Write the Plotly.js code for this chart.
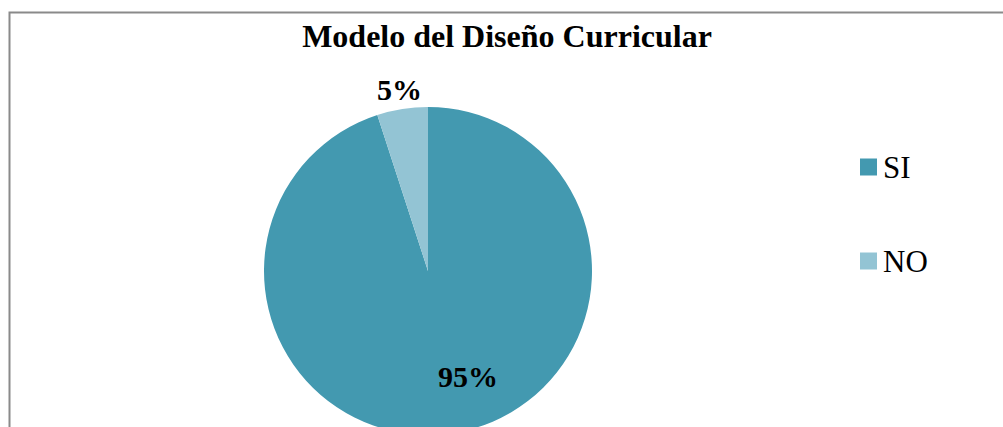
<!DOCTYPE html>
<html>
<head>
<meta charset="utf-8">
<script src="https://cdn.plot.ly/plotly-3.0.1.min.js"></script>
<style>
html,body{margin:0;padding:0;overflow:hidden;background:#fff;}
#chart{width:1003px;height:450px;}
</style>
</head>
<body>
<div id="chart"></div>
<script>
const chartTitle = "Modelo del Diseño Curricular";
const categories = ["SI", "NO"];
const values = [95, 5];
const colors = ["#4399B0", "#93C4D4"];

const W = 1003, H = 450;
const px = x => x / W;
const py = y => 1 - y / H;
const serif = "'Liberation Serif', 'Times New Roman', serif";

const total = values.reduce((a, b) => a + b, 0);
const pct = values.map(v => Math.round(v / total * 100) + "%");

const trace = {
  type: "pie",
  labels: categories,
  values: values,
  marker: {colors: colors, line: {width: 0}},
  sort: false,
  direction: "clockwise",
  rotation: 0,
  textinfo: "none",
  hoverinfo: "label+percent",
  domain: {x: [px(428 - 164), px(428 + 164)], y: [py(271 + 164), py(271 - 164)]},
  showlegend: false
};

const labelPos = [[468, 376], [399, 89]];
const legendPos = [[860, 167], [860, 261]];

const annotations = [];
const shapes = [{
  type: "rect", xref: "paper", yref: "paper",
  x0: px(9.5), x1: 1.05, y0: -0.1, y1: py(12.5),
  line: {color: "#8A8A8A", width: 2}, fillcolor: "rgba(0,0,0,0)", layer: "above"
}];

categories.forEach((c, i) => {
  annotations.push({
    xref: "paper", yref: "paper", x: px(labelPos[i][0]), y: py(labelPos[i][1]),
    xanchor: "center", yanchor: "middle", showarrow: false,
    text: "<b>" + pct[i] + "</b>", font: {family: serif, size: 30, color: "#000"}
  });
  shapes.push({
    type: "rect", xref: "paper", yref: "paper",
    x0: px(legendPos[i][0]), x1: px(legendPos[i][0] + 17),
    y0: py(legendPos[i][1] + 8.5), y1: py(legendPos[i][1] - 8.5),
    line: {width: 0}, fillcolor: colors[i]
  });
  annotations.push({
    xref: "paper", yref: "paper", x: px(legendPos[i][0] + 21), y: py(legendPos[i][1]),
    xanchor: "left", yanchor: "middle", showarrow: false,
    text: c, font: {family: serif, size: 31, color: "#000"}
  });
});

const layout = {
  width: W, height: H,
  margin: {l: 0, r: 0, t: 0, b: 0},
  paper_bgcolor: "#fff",
  title: {
    text: "<b>" + chartTitle + "</b>",
    x: px(507), xanchor: "center", y: py(36), yanchor: "middle",
    xref: "paper", yref: "container",
    font: {family: serif, size: 32, color: "#000"}
  },
  showlegend: false,
  shapes: shapes,
  annotations: annotations
};

Plotly.newPlot("chart", [trace], layout, {displayModeBar: false, staticPlot: true});
</script>
</body>
</html>
